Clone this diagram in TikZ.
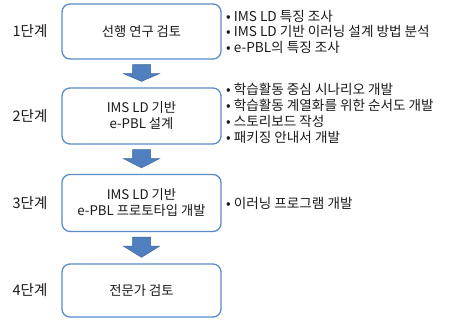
\documentclass[tikz,border=0pt]{standalone}
\usepackage{fontspec}
\setmainfont{Noto Sans CJK KR}
\usetikzlibrary{calc}
\definecolor{boxblue}{HTML}{5B8BC9}
\definecolor{arrfill}{HTML}{4F7FBE}
\definecolor{arrdraw}{HTML}{3A6599}
\definecolor{txt}{HTML}{1A1A1A}
\tikzset{
  stagebox/.style={draw=boxblue, line width=1.3pt, rounded corners=8pt, fill=white,
    minimum width=159pt, minimum height=55pt, align=center, inner sep=0pt,
    font=\fontsize{13.3}{16}\selectfont, text=txt},
  stagelbl/.style={anchor=center, font=\fontsize{14.5}{16}\selectfont, text=txt, inner sep=0pt},
  item/.style={anchor=west, font=\fontsize{13.6}{15}\selectfont, text=txt, inner sep=0pt},
  blockarrow/.style={fill=arrfill, draw=arrdraw, line width=0.5pt, line join=miter}
}
\newcommand{\downarrowblock}[2]{%
  \draw[blockarrow] ($(#1.south)+(-9,5)$) -- ($(#1.south)+(9,5)$) -- ($(#1.south)+(9,14)$)
    -- ($(#1.south)+(18,14)$) -- ($(#2.north)+(0,-6)$) -- ($(#1.south)+(-18,14)$)
    -- ($(#1.south)+(-9,14)$) -- cycle;}
\begin{document}
\begin{tikzpicture}[x=1pt,y=-1pt]
\useasboundingbox (0,0) rectangle (454,320);
\node[stagebox, minimum height=55pt] (b1) at (141.5,31.5) {선행 연구 검토};
\node[stagebox, minimum height=56pt] (b2) at (141.5,116) {IMS LD 기반\\e-PBL 설계};
\node[stagebox, minimum height=57pt] (b3) at (141.5,203) {IMS LD 기반\\e-PBL 프로토타입 개발};
\node[stagebox, minimum height=53pt] (b4) at (141.5,290.5) {전문가 검토};
\downarrowblock{b1}{b2}
\downarrowblock{b2}{b3}
\downarrowblock{b3}{b4}
\node[stagelbl] (l1) at (30,31.5) {1단계};
\node[stagelbl] (l2) at (30,116) {2단계};
\node[stagelbl] (l3) at (30,203) {3단계};
\node[stagelbl] (l4) at (30,290.5) {4단계};
\node[item] (i11) at (226,16) {• IMS LD 특징 조사};
\node[item] (i12) at (226,31.5) {• IMS LD 기반 이러닝 설계 방법 분석};
\node[item] (i13) at (226,47) {• e-PBL의 특징 조사};
\node[item] (i21) at (226,89.5) {• 학습활동 중심 시나리오 개발};
\node[item] (i22) at (226,105.5) {• 학습활동 계열화를 위한 순서도 개발};
\node[item] (i23) at (226,121) {• 스토리보드 작성};
\node[item] (i24) at (226,137) {• 패키징 안내서 개발};
\node[item] (i31) at (226,203) {• 이러닝 프로그램 개발};
\end{tikzpicture}
\end{document}
